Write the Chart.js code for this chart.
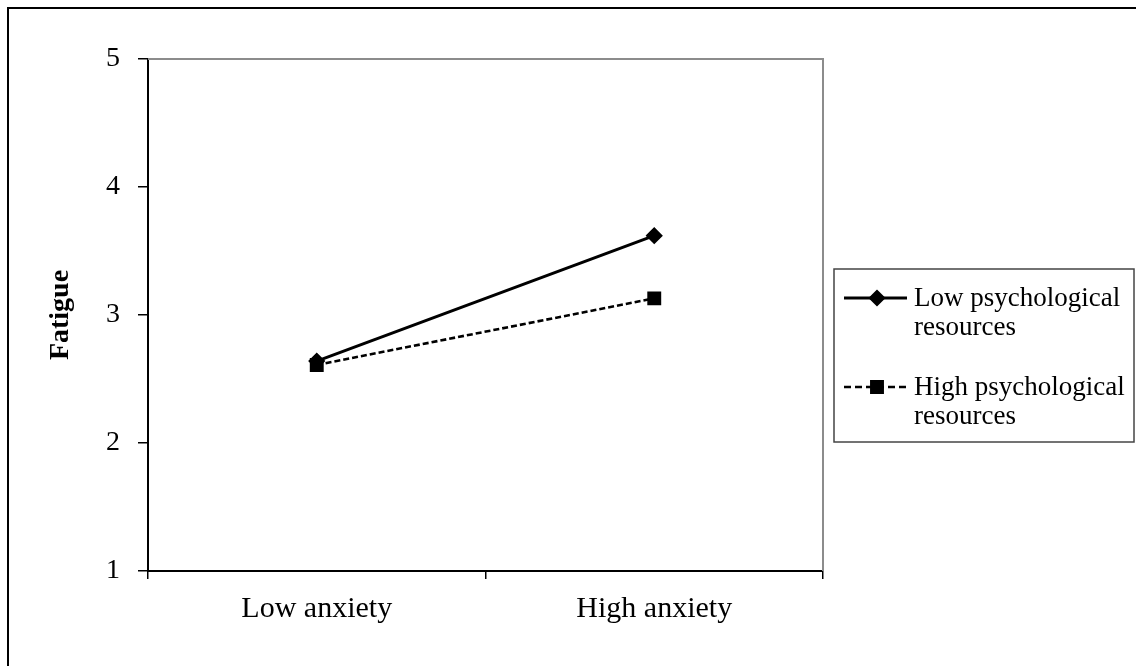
<!DOCTYPE html>
<html>
<head>
<meta charset="utf-8">
<script src="https://cdn.jsdelivr.net/npm/chart.js@4.4.0/dist/chart.umd.min.js"></script>
<style>
  html, body { margin: 0; padding: 0; background: #fff; }
  #wrap { position: relative; width: 1136px; height: 666px; }
</style>
</head>
<body>
<div id="wrap"><canvas id="chart" width="1136" height="666"></canvas></div>
<script>
const categories = ["Low anxiety", "High anxiety"];
const lowResources = [2.64, 3.62];
const highResources = [2.61, 3.13];
const yMin = 1;
const yMax = 5;
const yStep = 1;
const seriesLabels = [
  ["Low psychological", "resources"],
  ["High psychological", "resources"]
];

const FONT = "'Liberation Serif', 'Times New Roman', serif";

// outer frame + gray top/right edge of the plot
const framePlugin = {
  id: "frame",
  beforeDraw(chart) {
    const ctx = chart.ctx;
    ctx.save();
    ctx.fillStyle = "#fff";
    ctx.fillRect(0, 0, chart.width, chart.height);
    ctx.strokeStyle = "#000";
    ctx.lineWidth = 2;
    ctx.beginPath();
    ctx.moveTo(8, chart.height);
    ctx.lineTo(8, 8);
    ctx.lineTo(chart.width, 8);
    ctx.stroke();
    ctx.restore();
  },
  beforeDatasetsDraw(chart) {
    const { ctx, chartArea } = chart;
    ctx.save();
    ctx.strokeStyle = "#8c8c8c";
    ctx.lineWidth = 2;
    ctx.beginPath();
    ctx.moveTo(chartArea.left, chartArea.top);
    ctx.lineTo(chartArea.right, chartArea.top);
    ctx.lineTo(chartArea.right, chartArea.bottom);
    ctx.stroke();
    ctx.restore();
  }
};

// boxed legend with two-line labels
const boxLegend = {
  id: "boxLegend",
  afterDraw(chart) {
    const { ctx, chartArea } = chart;
    const x = chartArea.right + 11;
    const y = 269;
    ctx.save();
    ctx.strokeStyle = "#444";
    ctx.lineWidth = 1.5;
    ctx.strokeRect(x, y, 300, 173);
    ctx.font = "27px " + FONT;
    ctx.fillStyle = "#000";
    ctx.textBaseline = "middle";
    chart.data.datasets.forEach((ds, i) => {
      const cy = y + 29 + i * 89;
      ctx.strokeStyle = "#000";
      ctx.lineWidth = ds.borderWidth;
      ctx.setLineDash(ds.borderDash ? [7, 4] : []);
      ctx.beginPath();
      ctx.moveTo(x + 10, cy);
      ctx.lineTo(x + 73, cy);
      ctx.stroke();
      ctx.setLineDash([]);
      Chart.helpers.drawPoint(ctx, {
        pointStyle: ds.pointStyle,
        radius: ds.pointRadius,
        borderWidth: 1
      }, x + 43, cy);
      ctx.fill();
      ds.label.forEach((line, j) => {
        ctx.fillText(line, x + 80, cy + 1 + j * 29);
      });
    });
    ctx.restore();
  }
};

new Chart(document.getElementById("chart"), {
  type: "line",
  data: {
    labels: categories,
    datasets: [
      {
        label: seriesLabels[0],
        data: lowResources,
        borderColor: "#000",
        backgroundColor: "#000",
        borderWidth: 3,
        pointStyle: "rectRot",
        pointRadius: 6.5,
        pointBackgroundColor: "#000",
        pointBorderColor: "#000"
      },
      {
        label: seriesLabels[1],
        data: highResources,
        borderColor: "#000",
        backgroundColor: "#000",
        borderWidth: 2.6,
        borderDash: [6, 3],
        pointStyle: "rect",
        pointRadius: 8,
        pointBackgroundColor: "#000",
        pointBorderColor: "#000"
      }
    ]
  },
  options: {
    responsive: false,
    animation: false,
    devicePixelRatio: 1,
    layout: { padding: { top: 59, right: 313, left: 0, bottom: 0 } },
    plugins: {
      legend: { display: false },
      tooltip: { enabled: false }
    },
    scales: {
      x: {
        offset: true,
        afterFit: scale => { scale.height = 95; },
        border: { color: "#000", width: 2 },
        grid: {
          drawOnChartArea: false,
          tickLength: 8,
          tickColor: "#000",
          lineWidth: 1.5,
          offset: true
        },
        ticks: {
          color: "#000",
          padding: 12,
          font: { family: FONT, size: 30 }
        }
      },
      y: {
        min: yMin,
        max: yMax,
        afterFit: scale => { scale.width = 148; },
        border: { color: "#000", width: 2 },
        grid: {
          drawOnChartArea: false,
          tickLength: 10,
          tickColor: "#000",
          lineWidth: 1.5
        },
        ticks: {
          stepSize: yStep,
          color: "#000",
          padding: 18,
          font: { family: FONT, size: 28 }
        },
        title: {
          display: true,
          text: "Fatigue",
          color: "#000",
          padding: { top: 44, bottom: 0 },
          font: { family: FONT, size: 28, weight: "bold" }
        }
      }
    }
  },
  plugins: [framePlugin, boxLegend]
});
</script>
</body>
</html>
